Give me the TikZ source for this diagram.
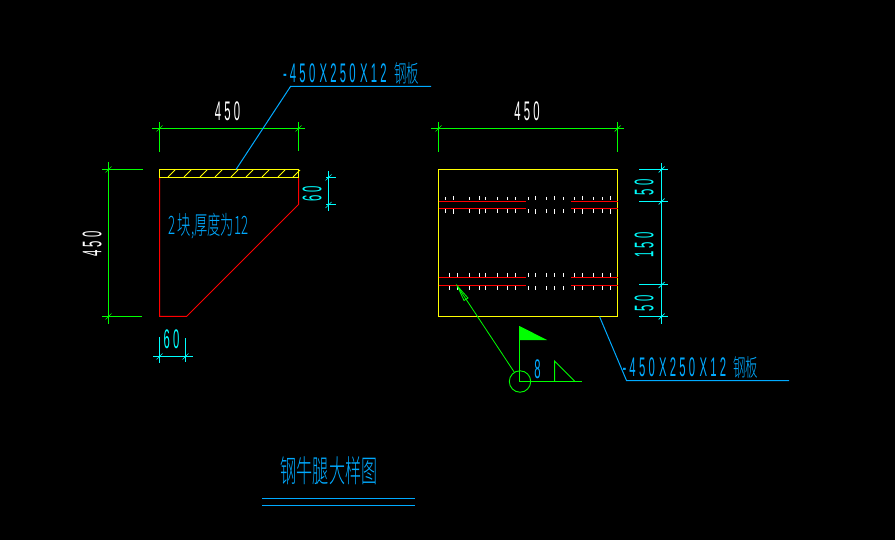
\documentclass[tikz,border=0pt]{standalone}
\usepackage{fontspec}
\newfontfamily\cadfont{Liberation Sans}[FakeStretch=0.42,LetterSpace=12]
\newfontfamily\cadcjk{Noto Sans CJK SC Light}[FakeStretch=0.52]
\definecolor{cadblue}{HTML}{00AAFF}
\definecolor{cadcyan}{HTML}{00FFFF}
\definecolor{cadgreen}{HTML}{00FF00}
\definecolor{cadred}{HTML}{FF0000}
\definecolor{cadyellow}{HTML}{FFFF00}
\tikzset{
  gline/.style={draw=cadgreen,line width=1bp},
  cline/.style={draw=cadcyan,line width=1bp},
  rline/.style={draw=cadred,line width=1bp},
  yline/.style={draw=cadyellow,line width=1bp},
  bline/.style={draw=cadblue,line width=1bp},
  wtick/.style={draw=white,line width=1bp},
  cadtext/.style={inner sep=0pt,outer sep=0pt,font=\cadfont\fontsize{27}{27}\selectfont},
  cjktext/.style={inner sep=0pt,outer sep=0pt},
}
\newcommand{\dimtick}[3]{\draw[#1,line width=0.7bp] (#2-3,#3+3) -- (#2+3,#3-3);}
\newcommand{\platelabel}{\makebox[111bp][l]{-450\hspace{-2bp} X250\hspace{-2bp} X12}{\cadcjk\fontsize{24}{24}\selectfont 钢板}}
\begin{document}
\begin{tikzpicture}[x=1bp,y=-1bp]
\useasboundingbox[fill=black] (0,0) rectangle (895,540);

% left view: top dimension
\draw[gline] (152,128.5) -- (305,128.5);
\draw[gline] (159.5,122) -- (159.5,152);
\draw[gline] (298.5,122) -- (298.5,151);
\dimtick{cadgreen}{159.5}{128.5}
\dimtick{cadgreen}{298.5}{128.5}
\node[cadtext,text=white] (t450a) at (227.5,111) {450};

% left view: plate
\draw[rline] (159.5,177.5) -- (159.5,316.5) -- (186.5,316.5) -- (298.5,204.5) -- (298.5,177.5);
\draw[yline] (159.5,169.5) rectangle (298.5,177.5);
\foreach \hx in {168,184,200,215,231,246,262,278,293}
  \draw[draw=cadyellow,line width=0.9bp] (\hx,177) -- (\hx+7,170);

% left leader
\draw[bline] (236,169.5) -- (290.5,86.5) -- (431,86.5);
\node[cadtext,text=cadblue,anchor=west] (tplatea) at (283,73.5) {\platelabel};

% left view: height dimension
\draw[gline] (108.5,162) -- (108.5,323.5);
\draw[gline] (102,169.5) -- (143,169.5);
\draw[gline] (102,316.5) -- (142,316.5);
\dimtick{cadgreen}{108.5}{169.5}
\dimtick{cadgreen}{108.5}{316.5}
\node[cadtext,text=white,rotate=90] (t450b) at (92,244) {450};

% left view: 60 right
\draw[cline] (328.5,171) -- (328.5,211);
\draw[cline] (326,177.5) -- (336,177.5);
\draw[cline] (326,205) -- (336,205);
\dimtick{cadcyan}{328.5}{177.5}
\dimtick{cadcyan}{328.5}{205}
\node[cadtext,text=cadcyan,rotate=90] (t60a) at (312,194) {60};

% left view: 60 bottom
\draw[cline] (153,356.5) -- (193,356.5);
\draw[cline] (159.5,337) -- (159.5,363);
\draw[cline] (185.5,338) -- (185.5,362);
\dimtick{cadcyan}{159.5}{356.5}
\dimtick{cadcyan}{185.5}{356.5}
\node[cadtext,text=cadcyan] (t60b) at (171.5,339) {60};

\node[cjktext,text=cadblue,anchor=west] (tnote) at (168,226.5) {\cadcjk\fontsize{25.5}{25.5}\selectfont 2 块,厚度为12};

% right view
\draw[gline] (431,128.5) -- (624,128.5);
\draw[gline] (438.5,122) -- (438.5,152);
\draw[gline] (617.5,122) -- (617.5,152);
\dimtick{cadgreen}{438.5}{128.5}
\dimtick{cadgreen}{617.5}{128.5}
\node[cadtext,text=white] (t450c) at (527,111) {450};

\draw[yline] (438.5,169.5) rectangle (617.5,316.5);
\foreach \ya in {201.5,208.5,277.5,285.5} {
  \draw[rline] (438.5,\ya) -- (526,\ya);
  \draw[rline] (571,\ya) -- (617.5,\ya);
}
% ticks of the upper pair
\foreach \tx/\tl in {445.5/0,453.5/1,469.5/0,479.5/1,485.5/0,497.5/0,507.5/0,515.5/0,528.5/0,535.5/1,546.5/0,554.5/1,563.5/0,574.5/0,582.5/1,593.5/0,602.5/0,610.5/1} {
  \draw[wtick] (\tx,200.5-3.6-\tl) -- (\tx,200.5);
  \draw[wtick] (\tx,209.5) -- (\tx,209.5+3.6+\tl);
}
% ticks of the lower pair
\foreach \tx in {449.5,457.5,469.5,479.5,485.5,497.5,507.5,515.5,528.5,535.5,546.5,554.5,563.5,574.5,582.5,593.5,602.5,610.5} {
  \draw[wtick] (\tx,273) -- (\tx,276.8);
  \draw[wtick] (\tx,286.3) -- (\tx,290);
}

% right dimensions
\draw[cline] (661.5,163) -- (661.5,323.5);
\foreach \dy in {169.5,201.5,285,316.5} {
  \draw[cline] (639,\dy) -- (668,\dy);
  \dimtick{cadcyan}{661.5}{\dy}
}
\node[cadtext,text=cadcyan,rotate=90] (t50a) at (644,187.5) {50};
\node[cadtext,text=cadcyan,rotate=90] (t150) at (644,245) {150};
\node[cadtext,text=cadcyan,rotate=90] (t50b) at (644,303.5) {50};

% weld symbol
\coordinate (wtip) at (457.3,286);
\coordinate (wcen) at (520,381.5);
\draw[draw=cadgreen,line width=0.8bp] (wtip) -- (514.5,372.5);
\draw[draw=cadgreen,line width=0.8bp] (wtip) -- (468,298) -- (464,300.5) -- cycle;
\draw[draw=cadgreen,line width=0.9bp] (wcen) circle (10.7);
\draw[gline] (519.5,326) -- (519.5,381.5) -- (582,381.5);
\fill[cadgreen] (519.5,326) -- (547,340) -- (519.5,340) -- cycle;
\draw[gline] (554.5,381.5) -- (554.5,361) -- (575,381.5);
\node[cadtext,text=cadblue] (t8) at (537.5,369.5) {8};

% right leader
\draw[bline] (599.5,316.5) -- (626.5,380.5) -- (789,380.5);
\node[cadtext,text=cadblue,anchor=west] (tplateb) at (622.5,367) {\platelabel};

% title
\node[cjktext,text=cadblue] (ttitle) at (329,471) {\cadcjk\fontsize{31}{31}\selectfont 钢牛腿大样图};
\draw[bline] (262,498.5) -- (415,498.5);
\draw[bline] (262,505.5) -- (415,505.5);
\end{tikzpicture}
\end{document}
